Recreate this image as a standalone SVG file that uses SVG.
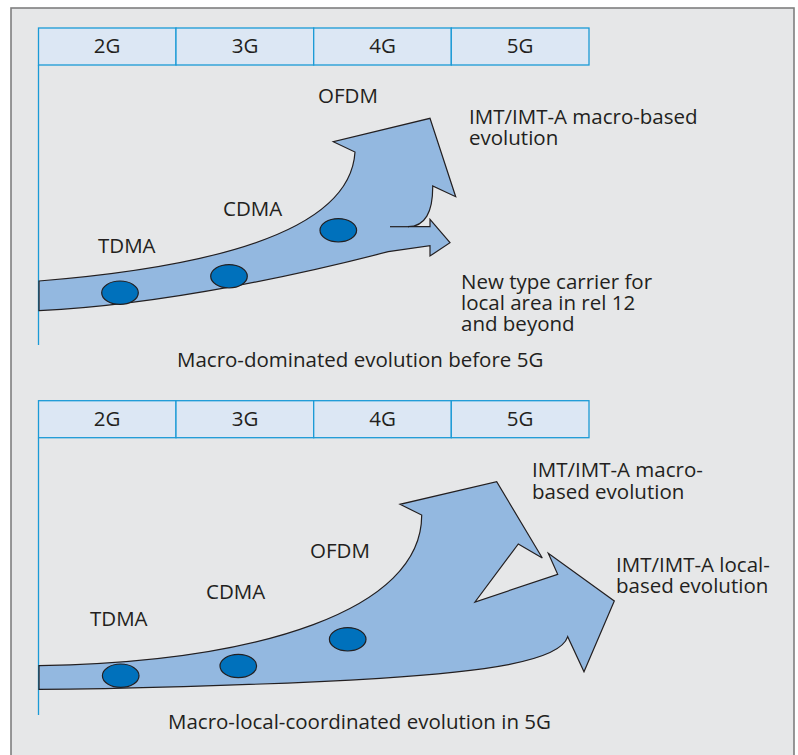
<svg xmlns="http://www.w3.org/2000/svg" width="798" height="755" viewBox="0 0 798 755">
<style>
.t{font-family:"Open Sans","Noto Sans","Liberation Sans",sans-serif;font-size:20.5px;fill:#231f20}
.m{text-anchor:middle}
.cell{fill:#dce7f4;stroke:#1b9ad6;stroke-width:1.3}
.axis{stroke:#1b9ad6;stroke-width:1.3;fill:none}
.band{fill:#93b8e0;stroke:#231f20;stroke-width:1.2;stroke-linejoin:miter}
.dot{fill:#0071bc;stroke:#231f20;stroke-width:1.2}
</style>
<rect x="0" y="0" width="798" height="755" fill="#ffffff"/>
<rect x="11" y="8" width="783" height="770" fill="#e6e7e8" stroke="#7f7f7f" stroke-width="1.6"/>

<g id="timeline-top">
<rect class="cell" x="38.5" y="28" width="137.5" height="37"/>
<rect class="cell" x="176" y="28" width="137.7" height="37"/>
<rect class="cell" x="313.7" y="28" width="137.6" height="37"/>
<rect class="cell" x="451.3" y="28" width="137.7" height="37"/>
<line class="axis" x1="38.5" y1="65" x2="38.5" y2="345"/>
<text class="t m" x="107" y="53">2G</text>
<text class="t m" x="245" y="53">3G</text>
<text class="t m" x="382.5" y="53">4G</text>
<text class="t m" x="520" y="53">5G</text>
</g>

<g id="evolution-top">
<path class="band" d="M39,281 C200,268 350,235 355,152 L333.3,141.7 L430,118.3 L455.7,196.7 L432.7,186 C433,212 425,226.7 408,226.7 L430,226.7 L430,219.3 L450,242.7 L430,256 L430,245.7 L388.3,251.7 C310,272 170,304 39,310.7 Z"/>
<line x1="390" y1="226.7" x2="409" y2="226.7" stroke="#231f20" stroke-width="1.2"/>
<ellipse class="dot" cx="120" cy="292.7" rx="18.3" ry="11.7"/>
<ellipse class="dot" cx="229" cy="276.3" rx="18.3" ry="11.7"/>
<ellipse class="dot" cx="338.3" cy="230.3" rx="18.3" ry="11.7"/>
</g>

<g id="labels-top">
<text class="t" x="318" y="103">OFDM</text>
<text class="t" x="223" y="216">CDMA</text>
<text class="t" x="98" y="253">TDMA</text>
<text class="t" x="469" y="124">IMT/IMT-A macro-based<tspan x="469" dy="21">evolution</tspan></text>
<text class="t" x="461" y="289">New type carrier for<tspan x="461" dy="21">local area in rel 12</tspan><tspan x="461" dy="21">and beyond</tspan></text>
<text class="t" x="177" y="367">Macro-dominated evolution before 5G</text>
</g>

<g id="timeline-bottom">
<rect class="cell" x="38.5" y="400.7" width="137.5" height="37"/>
<rect class="cell" x="176" y="400.7" width="137.7" height="37"/>
<rect class="cell" x="313.7" y="400.7" width="137.6" height="37"/>
<rect class="cell" x="451.3" y="400.7" width="137.7" height="37"/>
<line class="axis" x1="38.5" y1="437.7" x2="38.5" y2="715"/>
<text class="t m" x="107" y="426">2G</text>
<text class="t m" x="245" y="426">3G</text>
<text class="t m" x="382.5" y="426">4G</text>
<text class="t m" x="520" y="426">5G</text>
</g>

<g id="evolution-bottom">
<path class="band" d="M39,665.7 C260,662 422,610 421.7,515 L400,504.3 L496.7,481.7 L542.3,558 L518.3,544 L475,602 L557.7,574.3 L548.3,553.3 L614.3,601 L584,671.7 L567.7,636.7 C560,662 480,672 380,678.3 C250,686 100,689 39,689.3 Z"/>
<ellipse class="dot" cx="120.7" cy="675.7" rx="18.3" ry="11.7"/>
<ellipse class="dot" cx="238.3" cy="666" rx="18.3" ry="11.7"/>
<ellipse class="dot" cx="347.7" cy="639.3" rx="18.3" ry="11.7"/>
</g>

<g id="labels-bottom">
<text class="t" x="310" y="558">OFDM</text>
<text class="t" x="206" y="598.5">CDMA</text>
<text class="t" x="90" y="626">TDMA</text>
<text class="t" x="532" y="477">IMT/IMT-A macro-<tspan x="532" dy="22">based evolution</tspan></text>
<text class="t" x="616" y="572">IMT/IMT-A local-<tspan x="616" dy="21">based evolution</tspan></text>
<text class="t" x="168" y="729">Macro-local-coordinated evolution in 5G</text>
</g>
</svg>
